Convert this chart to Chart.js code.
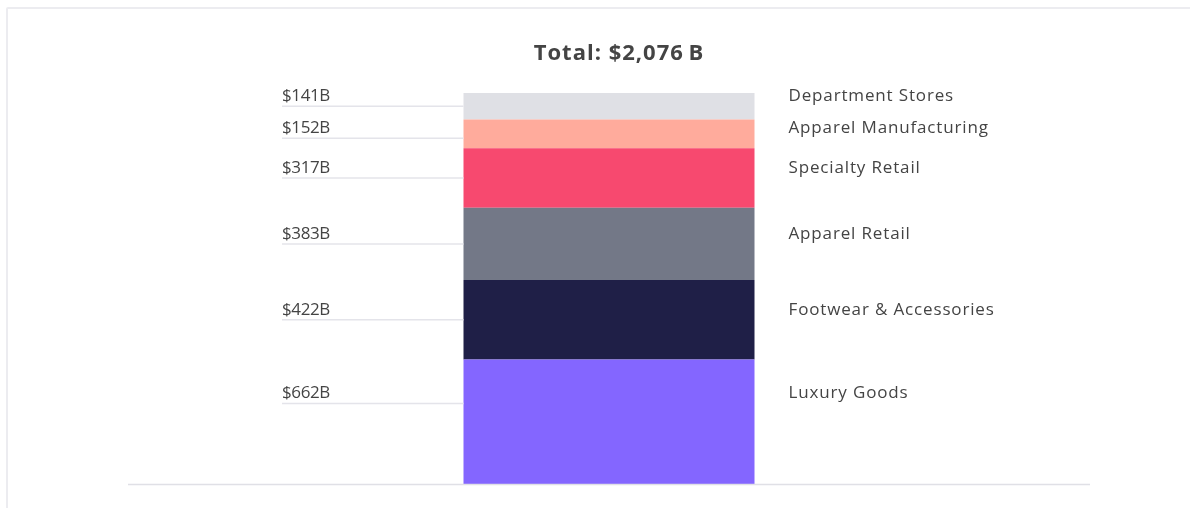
<!DOCTYPE html>
<html>
<head>
<meta charset="utf-8">
<script src="https://cdn.jsdelivr.net/npm/chart.js@4.4.1/dist/chart.umd.min.js"></script>
<style>
  html, body { margin: 0; padding: 0; background: #fff; overflow: hidden; }
  .frame {
    position: absolute; left: 6px; top: 7px; width: 1300px; height: 600px;
    border: 2px solid #ececf0; border-radius: 2px;
  }
  .wrap { position: absolute; left: 0; top: 0; width: 1190px; height: 508px; }
</style>
</head>
<body>
<div class="frame"></div>
<div class="wrap"><canvas id="chart"></canvas></div>
<script>
// ── Data (bottom of the stack first) ─────────────────────────────────────────
const SEGMENTS = ['Luxury Goods', 'Footwear & Accessories', 'Apparel Retail',
                  'Specialty Retail', 'Apparel Manufacturing', 'Department Stores'];
const VALUES   = [662, 422, 383, 317, 152, 141];
const CATEGORY = ['Total'];
const TITLE    = 'Total: $2,076\u2009B';

const COLORS = ['#8466ff', '#1f1f47', '#737887', '#f7496f', '#ffab9c', '#dfe0e5'];

const FONT = "'Open Sans', sans-serif";
const TEXT = '#444444';

const total = VALUES.reduce((a, b) => a + b, 0);

// ── Labels: value on the left with a guide line, name on the right ───────────
const segmentLabels = {
  id: 'segmentLabels',
  afterDatasetsDraw(chart) {
    const { ctx, chartArea } = chart;
    ctx.save();

    // guide line positions, top segment first, kept at least 32px apart
    const items = chart.data.datasets.map((ds, i) => {
      const bar = chart.getDatasetMeta(i).data[0];
      return { ds, bar, y: Math.min((bar.y + bar.base) / 2, bar.y + 44) };
    }).reverse();
    for (let k = 1; k < items.length; k++) {
      items[k].y = Math.max(items[k].y, items[k - 1].y + 32);
    }

    ctx.font = `17px ${FONT}`;
    ctx.fillStyle = TEXT;
    ctx.textBaseline = 'alphabetic';
    ctx.textAlign = 'left';
    items.forEach(({ ds, bar, y }) => {
      const left = bar.x - bar.width / 2, right = bar.x + bar.width / 2;
      ctx.strokeStyle = '#e4e4ea';
      ctx.lineWidth = 1.5;
      ctx.beginPath();
      ctx.moveTo(282, y);
      ctx.lineTo(left, y);
      ctx.stroke();

      ctx.letterSpacing = '-0.4px';
      ctx.fillText('$' + ds.data[0] + 'B', 282, y - 5);
      ctx.letterSpacing = '0.85px';
      ctx.fillText(ds.label, right + 34, y - 5);
    });

    // baseline
    ctx.strokeStyle = '#e0e0e6';
    ctx.lineWidth = 1.5;
    ctx.beginPath();
    ctx.moveTo(chartArea.left, chartArea.bottom + 0.5);
    ctx.lineTo(chartArea.right, chartArea.bottom + 0.5);
    ctx.stroke();

    // title
    ctx.font = `bold 22px ${FONT}`;
    ctx.letterSpacing = '1px';
    ctx.textAlign = 'center';
    ctx.fillText(TITLE, (chartArea.left + chartArea.right) / 2 + 10, 60);
    ctx.restore();
  }
};

new Chart(document.getElementById('chart'), {
  type: 'bar',
  data: {
    labels: CATEGORY,
    datasets: SEGMENTS.map((name, i) => ({
      label: name,
      data: [VALUES[i]],
      backgroundColor: COLORS[i],
      borderWidth: 0,
      barPercentage: 1,
      categoryPercentage: 0.3025,
    })),
  },
  options: {
    responsive: true,
    maintainAspectRatio: false,
    animation: false,
    layout: { padding: { top: 93, bottom: 24, left: 128, right: 100 } },
    plugins: {
      legend: { display: false },
      title: { display: false },
      tooltip: { enabled: false },
    },
    scales: {
      x: { stacked: true, display: false },
      y: { stacked: true, display: false, min: 0, max: total },
    },
  },
  plugins: [segmentLabels],
});
</script>
</body>
</html>
